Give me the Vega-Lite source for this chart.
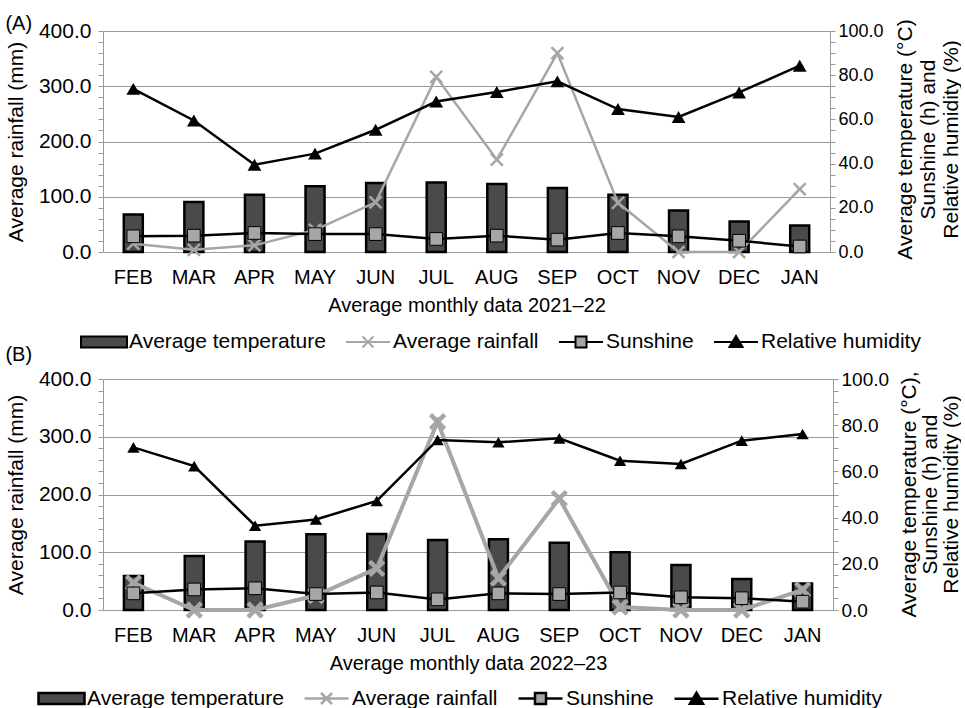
{
  "$schema": "https://vega.github.io/schema/vega-lite/v6.json",
  "padding": {"left": 5, "top": 13, "right": 0, "bottom": 0},
  "spacing": -7,
  "config": {
    "font": "Liberation Sans",
    "view": {"stroke": null},
    "axis": {"labelColor": "#000", "titleColor": "#000", "titleFontWeight": "normal", "domainColor": "#999", "tickColor": "#999"},
    "title": {"fontWeight": "normal", "color": "#000"}
  },
  "datasets": {
    "a": [
      {"month": "FEB", "temp": 17.0, "rain": 15, "sun": 7.1, "hum": 73.8},
      {"month": "MAR", "temp": 22.6, "rain": 4, "sun": 7.4, "hum": 59.5},
      {"month": "APR", "temp": 25.9, "rain": 12, "sun": 8.6, "hum": 39.5},
      {"month": "MAY", "temp": 29.7, "rain": 40, "sun": 8.1, "hum": 44.5},
      {"month": "JUN", "temp": 31.2, "rain": 90, "sun": 8.1, "hum": 55.3},
      {"month": "JUL", "temp": 31.5, "rain": 317, "sun": 5.9, "hum": 68.1},
      {"month": "AUG", "temp": 30.8, "rain": 167, "sun": 7.4, "hum": 72.4},
      {"month": "SEP", "temp": 29.0, "rain": 360, "sun": 5.6, "hum": 77.2},
      {"month": "OCT", "temp": 25.9, "rain": 89, "sun": 8.6, "hum": 64.7},
      {"month": "NOV", "temp": 18.8, "rain": 0, "sun": 7.1, "hum": 61.1},
      {"month": "DEC", "temp": 13.8, "rain": 0, "sun": 5.1, "hum": 72.2},
      {"month": "JAN", "temp": 12.0, "rain": 114, "sun": 2.5, "hum": 84.3}
    ],
    "b": [
      {"month": "FEB", "temp": 14.7, "rain": 47, "sun": 7.2, "hum": 70.4},
      {"month": "MAR", "temp": 23.4, "rain": 0, "sun": 8.9, "hum": 62.3},
      {"month": "APR", "temp": 29.6, "rain": 0, "sun": 9.4, "hum": 36.5},
      {"month": "MAY", "temp": 32.8, "rain": 25, "sun": 6.9, "hum": 39.2},
      {"month": "JUN", "temp": 32.9, "rain": 72, "sun": 7.6, "hum": 47.2},
      {"month": "JUL", "temp": 30.3, "rain": 326, "sun": 4.6, "hum": 73.6},
      {"month": "AUG", "temp": 30.6, "rain": 55, "sun": 7.2, "hum": 72.6},
      {"month": "SEP", "temp": 29.1, "rain": 193, "sun": 6.9, "hum": 74.3},
      {"month": "OCT", "temp": 25.0, "rain": 5, "sun": 7.6, "hum": 64.6},
      {"month": "NOV", "temp": 19.5, "rain": 0, "sun": 5.5, "hum": 63.2},
      {"month": "DEC", "temp": 13.4, "rain": 0, "sun": 5.1, "hum": 73.3},
      {"month": "JAN", "temp": 11.5, "rain": 35, "sun": 3.6, "hum": 76.2}
    ],
    "leg": [
      {"series": "Average temperature"},
      {"series": "Average rainfall"},
      {"series": "Sunshine"},
      {"series": "Relative humidity"}
    ]
  },
  "resolve": {
    "scale": {"x": "independent", "y": "independent", "shape": "independent", "fill": "independent", "stroke": "independent"},
    "legend": {"shape": "independent", "fill": "independent", "stroke": "independent"}
  },
  "vconcat": [
    {
      "title": {"text": "(A)", "anchor": "start", "frame": "bounds", "fontSize": 20, "offset": -15},
      "width": 727,
      "height": 221,
      "data": {"name": "a"},
      "resolve": {"scale": {"y": "independent"}},
      "encoding": {
        "x": {
          "field": "month", "type": "ordinal",
          "sort": ["FEB","MAR","APR","MAY","JUN","JUL","AUG","SEP","OCT","NOV","DEC","JAN"],
          "scale": {"paddingInner": 0, "paddingOuter": 0},
          "axis": {"title": "Average monthly data 2021–22", "titleFontSize": 20, "titlePadding": 8, "labelFontSize": 20, "labelAngle": 0, "labelPadding": 15, "ticks": false, "tickSize": 0}
        }
      },
      "layer": [
        {
          "mark": {"type": "bar", "size": 19, "fill": "#4a4a4a", "stroke": "#000", "strokeWidth": 2.5},
          "encoding": {
            "y": {"field": "temp", "type": "quantitative", "scale": {"domain": [0, 100]},
              "axis": {"orient": "right", "values": [0,5,10,15,20,25,30,35,40,45,50,55,60,65,70,75,80,85,90,95,100],
                "labelExpr": "datum.value % 20 == 0 ? format(datum.value, '.1f') : ''", "labelOverlap": false,
                "grid": false, "tickSize": 5, "labelPadding": 3, "labelFontSize": 18,
                "title": ["Average temperature (°C)", "Sunshine (h)  and", "Relative humidity (%)"],
                "titleFontSize": 21, "titleAngle": 270, "titleBaseline": "top", "titleAlign": "center", "titleLineHeight": 23, "titleX": 64, "titleY": 108}}
          }
        },
        {
          "mark": {"type": "line", "stroke": "#a6a6a6", "strokeWidth": 2.5},
          "encoding": {
            "y": {"field": "rain", "type": "quantitative", "scale": {"domain": [0, 400]},
              "axis": {"orient": "left", "values": [0,20,40,60,80,100,120,140,160,180,200,220,240,260,280,300,320,340,360,380,400],
                "labelExpr": "datum.value % 100 == 0 ? format(datum.value, '.1f') : ''", "labelOverlap": false,
                "grid": true, "gridColor": "#999", "gridOpacity": {"condition": {"test": "datum.value % 100 == 0", "value": 1}, "value": 0},
                "tickSize": 5, "labelPadding": 7, "labelFontSize": 21,
                "title": "Average rainfall (mm)", "titleFontSize": 21, "titlePadding": 12}}
          }
        },
        {
          "mark": {"type": "point", "shape": "M-1,-1L1,1M-1,1L1,-1", "filled": false, "stroke": "#a6a6a6", "strokeWidth": 2.5, "size": 144, "opacity": 1},
          "encoding": {"y": {"field": "rain", "type": "quantitative", "scale": {"domain": [0, 400]}, "axis": null}}
        },
        {
          "mark": {"type": "line", "stroke": "#000", "strokeWidth": 2.5},
          "encoding": {"y": {"field": "sun", "type": "quantitative", "scale": {"domain": [0, 100]}, "axis": null}}
        },
        {
          "mark": {"type": "point", "shape": "square", "filled": true, "fill": "#a6a6a6", "stroke": "#000", "strokeWidth": 1, "size": 160, "opacity": 1},
          "encoding": {"y": {"field": "sun", "type": "quantitative", "scale": {"domain": [0, 100]}, "axis": null}}
        },
        {
          "mark": {"type": "line", "stroke": "#000", "strokeWidth": 2.5},
          "encoding": {"y": {"field": "hum", "type": "quantitative", "scale": {"domain": [0, 100]}, "axis": null}}
        },
        {
          "mark": {"type": "point", "shape": "triangle-up", "filled": true, "fill": "#000", "size": 190, "opacity": 1},
          "encoding": {"y": {"field": "hum", "type": "quantitative", "scale": {"domain": [0, 100]}, "axis": null}}
        },
        {
          "data": {"name": "leg"},
          "transform": [{"filter": "false"}],
          "mark": {"type": "point", "filled": true, "opacity": 1},
          "encoding": {
            "x": null,
            "shape": {"field": "series", "type": "nominal",
              "scale": {"domain": ["Average temperature", "Average rainfall", "Sunshine", "Relative humidity"],
                "range": ["M-2.3,-0.55H2.3V0.55H-2.3Z", "M-2.2,0H2.2M-0.55,-0.55L0.55,0.55M-0.55,0.55L0.55,-0.55", "M-2.2,0H-0.55M0.55,0H2.2M-0.55,-0.55H0.55V0.55H-0.55Z", "M-2.2,0H2.2M-0.65,0.5L0,-0.6L0.65,0.5Z"]},
              "legend": {"title": null, "orient": "none", "legendX": -10, "legendY": 300, "direction": "horizontal", "symbolSize": 400, "symbolStrokeWidth": 2, "labelFontSize": 21, "labelOffset": 14, "columnPadding": 16, "labelLimit": 400, "labelColor": "#000", "padding": 0}},
            "fill": {"field": "series", "type": "nominal",
              "scale": {"domain": ["Average temperature", "Average rainfall", "Sunshine", "Relative humidity"], "range": ["#4a4a4a", "transparent", "#a6a6a6", "#000000"]},
              "legend": {"title": null, "orient": "none", "legendX": -10, "legendY": 300, "direction": "horizontal", "symbolSize": 400, "symbolStrokeWidth": 2, "labelFontSize": 21, "labelOffset": 14, "columnPadding": 16, "labelLimit": 400, "labelColor": "#000", "padding": 0}},
            "stroke": {"field": "series", "type": "nominal",
              "scale": {"domain": ["Average temperature", "Average rainfall", "Sunshine", "Relative humidity"], "range": ["#000000", "#a6a6a6", "#000000", "#000000"]},
              "legend": {"title": null, "orient": "none", "legendX": -10, "legendY": 300, "direction": "horizontal", "symbolSize": 400, "symbolStrokeWidth": 2, "labelFontSize": 21, "labelOffset": 14, "columnPadding": 16, "labelLimit": 400, "labelColor": "#000", "padding": 0}}
          }
        }
      ]
    },
    {
      "title": {"text": "(B)", "anchor": "start", "frame": "bounds", "fontSize": 20, "offset": 3},
      "width": 730,
      "height": 231,
      "data": {"name": "b"},
      "resolve": {"scale": {"y": "independent"}},
      "encoding": {
        "x": {
          "field": "month", "type": "ordinal",
          "sort": ["FEB","MAR","APR","MAY","JUN","JUL","AUG","SEP","OCT","NOV","DEC","JAN"],
          "scale": {"paddingInner": 0, "paddingOuter": 0},
          "axis": {"title": "Average monthly data 2022–23", "titleFontSize": 20, "titlePadding": 8, "labelFontSize": 20, "labelAngle": 0, "labelPadding": 15, "ticks": false, "tickSize": 0}
        }
      },
      "layer": [
        {
          "mark": {"type": "bar", "size": 19, "fill": "#4a4a4a", "stroke": "#000", "strokeWidth": 2.5},
          "encoding": {
            "y": {"field": "temp", "type": "quantitative", "scale": {"domain": [0, 100]},
              "axis": {"orient": "right", "values": [0,5,10,15,20,25,30,35,40,45,50,55,60,65,70,75,80,85,90,95,100],
                "labelExpr": "datum.value % 20 == 0 ? format(datum.value, '.1f') : ''", "labelOverlap": false,
                "grid": false, "tickSize": 5, "labelPadding": 3, "labelFontSize": 19,
                "title": ["Average temperature (°C),", "Sunshine (h) and", "Relative humidity (%)"],
                "titleFontSize": 21, "titleAngle": 270, "titleBaseline": "top", "titleAlign": "center", "titleLineHeight": 21, "titleX": 65, "titleY": 115}}
          }
        },
        {
          "mark": {"type": "line", "stroke": "#a6a6a6", "strokeWidth": 4},
          "encoding": {
            "y": {"field": "rain", "type": "quantitative", "scale": {"domain": [0, 400]},
              "axis": {"orient": "left", "values": [0,20,40,60,80,100,120,140,160,180,200,220,240,260,280,300,320,340,360,380,400],
                "labelExpr": "datum.value % 100 == 0 ? format(datum.value, '.1f') : ''", "labelOverlap": false,
                "grid": true, "gridColor": "#999", "gridOpacity": {"condition": {"test": "datum.value % 100 == 0", "value": 1}, "value": 0},
                "tickSize": 5, "labelPadding": 7, "labelFontSize": 21,
                "title": "Average rainfall (mm)", "titleFontSize": 21, "titlePadding": 12}}
          }
        },
        {
          "mark": {"type": "point", "shape": "M-1,-1L1,1M-1,1L1,-1", "filled": false, "stroke": "#a6a6a6", "strokeWidth": 4.5, "size": 200, "opacity": 1},
          "encoding": {"y": {"field": "rain", "type": "quantitative", "scale": {"domain": [0, 400]}, "axis": null}}
        },
        {
          "mark": {"type": "line", "stroke": "#000", "strokeWidth": 2.5},
          "encoding": {"y": {"field": "sun", "type": "quantitative", "scale": {"domain": [0, 100]}, "axis": null}}
        },
        {
          "mark": {"type": "point", "shape": "square", "filled": true, "fill": "#a6a6a6", "stroke": "#000", "strokeWidth": 1, "size": 160, "opacity": 1},
          "encoding": {"y": {"field": "sun", "type": "quantitative", "scale": {"domain": [0, 100]}, "axis": null}}
        },
        {
          "mark": {"type": "line", "stroke": "#000", "strokeWidth": 2.5},
          "encoding": {"y": {"field": "hum", "type": "quantitative", "scale": {"domain": [0, 100]}, "axis": null}}
        },
        {
          "mark": {"type": "point", "shape": "triangle-up", "filled": true, "fill": "#000", "size": 150, "opacity": 1},
          "encoding": {"y": {"field": "hum", "type": "quantitative", "scale": {"domain": [0, 100]}, "axis": null}}
        },
        {
          "data": {"name": "leg"},
          "transform": [{"filter": "false"}],
          "mark": {"type": "point", "filled": true, "opacity": 1},
          "encoding": {
            "x": null,
            "shape": {"field": "series", "type": "nominal",
              "scale": {"domain": ["Average temperature", "Average rainfall", "Sunshine", "Relative humidity"],
                "range": ["M-2.3,-0.55H2.3V0.55H-2.3Z", "M-2.2,0H2.2M-0.55,-0.55L0.55,0.55M-0.55,0.55L0.55,-0.55", "M-2.2,0H-0.55M0.55,0H2.2M-0.55,-0.55H0.55V0.55H-0.55Z", "M-2.2,0H2.2M-0.65,0.5L0,-0.6L0.65,0.5Z"]},
              "legend": {"title": null, "orient": "none", "legendX": -53, "legendY": 308, "direction": "horizontal", "symbolSize": 400, "symbolStrokeWidth": 2.5, "labelFontSize": 21, "labelOffset": 14, "columnPadding": 15, "labelLimit": 400, "labelColor": "#000", "padding": 0}},
            "fill": {"field": "series", "type": "nominal",
              "scale": {"domain": ["Average temperature", "Average rainfall", "Sunshine", "Relative humidity"], "range": ["#4a4a4a", "transparent", "#a6a6a6", "#000000"]},
              "legend": {"title": null, "orient": "none", "legendX": -53, "legendY": 308, "direction": "horizontal", "symbolSize": 400, "symbolStrokeWidth": 2.5, "labelFontSize": 21, "labelOffset": 14, "columnPadding": 15, "labelLimit": 400, "labelColor": "#000", "padding": 0}},
            "stroke": {"field": "series", "type": "nominal",
              "scale": {"domain": ["Average temperature", "Average rainfall", "Sunshine", "Relative humidity"], "range": ["#000000", "#a6a6a6", "#000000", "#000000"]},
              "legend": {"title": null, "orient": "none", "legendX": -53, "legendY": 308, "direction": "horizontal", "symbolSize": 400, "symbolStrokeWidth": 2.5, "labelFontSize": 21, "labelOffset": 14, "columnPadding": 15, "labelLimit": 400, "labelColor": "#000", "padding": 0}}
          }
        }
      ]
    }
  ]
}
